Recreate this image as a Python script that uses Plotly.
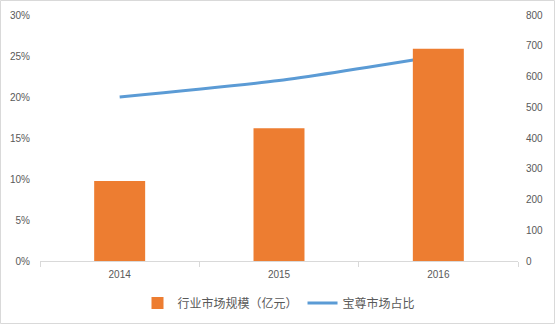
import plotly.graph_objects as go

years = ["2014", "2015", "2016"]
market_size = [260, 432, 690]          # 行业市场规模（亿元）
share = [0.20, 0.22, 0.25]             # 宝尊市场占比

W, H = 555, 324
ml, mr, mt, mb = 40, 37, 15, 63
pw, ph = W - ml - mr, H - mt - mb

fig = go.Figure()
fig.add_trace(go.Bar(
    x=years, y=market_size, name="行业市场规模（亿元）",
    marker=dict(color="#ED7D31", line=dict(width=0)),
    width=0.32, yaxis="y2",
))
fig.add_trace(go.Scatter(
    x=years, y=share, name="宝尊市场占比", mode="lines",
    line=dict(color="#5B9BD5", width=3, shape="spline", smoothing=0.6),
    yaxis="y",
))

tickfont = dict(family="Liberation Sans, Arial, sans-serif", size=10, color="#595959")
fig.update_layout(
    width=W, height=H,
    margin=dict(l=ml, r=mr, t=mt, b=mb, autoexpand=False),
    paper_bgcolor="white", plot_bgcolor="white",
    showlegend=True,
    legend=dict(orientation="h", x=0.5, xanchor="center", y=-42 / ph, yanchor="middle",
                font=dict(family="Noto Sans CJK SC", size=12, color="#595959"),
                traceorder="normal", itemwidth=30),
    xaxis=dict(type="category", showgrid=False, showline=True, linecolor="#D9D9D9",
               linewidth=1, ticks="outside", tickson="boundaries", ticklen=5,
               tickcolor="#D9D9D9", tickfont=tickfont, zeroline=False,
               ticklabelstandoff=4),
    yaxis=dict(range=[0, 0.30], dtick=0.05, tickformat=".0%", showgrid=False,
               zeroline=False, showline=False, tickfont=tickfont, ticklabelstandoff=9),
    yaxis2=dict(range=[0, 800], dtick=100, overlaying="y", side="right",
                showgrid=False, zeroline=False, showline=False, tickfont=tickfont,
                ticklabelstandoff=7),
    bargap=0.68,
)
fig.add_shape(type="rect", xref="paper", yref="paper",
              x0=(0.5 - ml) / pw, x1=(W - 0.5 - ml) / pw,
              y0=-(mb - 0.5) / ph, y1=(ph + mt - 0.5) / ph,
              line=dict(color="#D9D9D9", width=1), layer="below")
fig.write_html("out.html")
